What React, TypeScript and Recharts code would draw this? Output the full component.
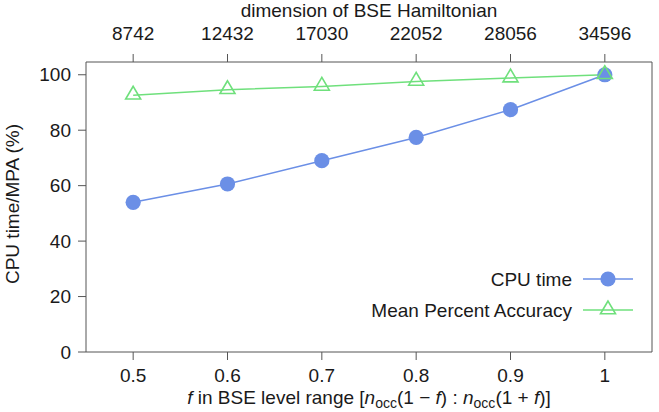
import React from 'react';
import { LineChart, Line, XAxis, YAxis } from 'recharts';

const fValues = [0.5, 0.6, 0.7, 0.8, 0.9, 1.0];
const dimensionLabels = ['8742', '12432', '17030', '22052', '28056', '34596'];
const cpuTime = [54.0, 60.6, 69.0, 77.4, 87.4, 100];
const meanPercentAccuracy = [92.6, 94.6, 95.8, 97.6, 98.8, 100];
const yTicks = [0, 20, 40, 60, 80, 100];

const data = fValues.map((f, i) => ({ f, cpu: cpuTime[i], mpa: meanPercentAccuracy[i] }));

const FONT = '"Liberation Sans", Arial, Helvetica, sans-serif';
const TEXT = '#1a1a1a';
const AXIS = '#555555';
const BLUE = '#6b8fe6';
const GREEN = '#6fe07c';
const FS = 19;

const dimFor = (v: number) => {
  const i = fValues.findIndex((f) => Math.abs(f - v) < 1e-9);
  return i >= 0 ? dimensionLabels[i] : '';
};

const Triangle = (props: any) => {
  const { cx, cy } = props;
  if (cx == null || cy == null) return null;
  return (
    <polygon
      points={`${cx},${cy - 9} ${cx - 7.5},${cy + 3.8} ${cx + 7.5},${cy + 3.8}`}
      fill="none"
      stroke={GREEN}
      strokeWidth={1.6}
    />
  );
};

const Circle = (props: any) => {
  const { cx, cy } = props;
  if (cx == null || cy == null) return null;
  return <circle cx={cx} cy={cy} r={7.6} fill={BLUE} stroke="none" />;
};

const tickStyle = { fontSize: FS, fill: TEXT, fontFamily: FONT };

export default function App() {
  return (
    <div style={{ position: 'absolute', left: 0, top: 0, width: 659, height: 412, background: '#fff' }}>
      <LineChart width={659} height={412} data={data} margin={{ top: 0, right: 0, bottom: 0, left: 0 }}>
        <XAxis
          xAxisId="bottom"
          dataKey="f"
          type="number"
          domain={[0.45, 1.05]}
          allowDataOverflow
          ticks={fValues}
          height={60}
          tickSize={8}
          tickMargin={9}
          tick={tickStyle}
          stroke={AXIS}
          tickFormatter={(v: number) => (Math.abs(v - 1) < 1e-9 ? '1' : String(v))}
          label={(p: any) => {
            const vb = p.viewBox || {};
            return (
              <text x={vb.x + vb.width / 2} y={vb.y + 52} textAnchor="middle" fontSize={FS} fill={TEXT} fontFamily={FONT}>
                <tspan fontStyle="italic">f</tspan>
                <tspan> in BSE level range [</tspan>
                <tspan fontStyle="italic">n</tspan>
                <tspan fontSize={14} dy={4}>occ</tspan>
                <tspan dy={-4}>(1 − </tspan>
                <tspan fontStyle="italic">f</tspan>
                <tspan>) : </tspan>
                <tspan fontStyle="italic">n</tspan>
                <tspan fontSize={14} dy={4}>occ</tspan>
                <tspan dy={-4}>(1 + </tspan>
                <tspan fontStyle="italic">f</tspan>
                <tspan>)]</tspan>
              </text>
            );
          }}
        />
        <XAxis
          xAxisId="top"
          dataKey="f"
          orientation="top"
          type="number"
          domain={[0.45, 1.05]}
          allowDataOverflow
          ticks={fValues}
          height={62}
          tickSize={8}
          tickMargin={14}
          tick={tickStyle}
          stroke={AXIS}
          tickFormatter={(v: number) => dimFor(v)}
          label={(p: any) => {
            const vb = p.viewBox || {};
            return (
              <text x={vb.x + vb.width / 2} y={17} textAnchor="middle" fontSize={FS} fill={TEXT} fontFamily={FONT}>
                dimension of BSE Hamiltonian
              </text>
            );
          }}
        />
        <YAxis
          yAxisId="left"
          type="number"
          domain={[0, 104.6]}
          allowDataOverflow
          ticks={yTicks}
          width={86}
          tickSize={8}
          tickMargin={7}
          tick={tickStyle}
          stroke={AXIS}
          label={(p: any) => {
            const vb = p.viewBox || {};
            const cy = vb.y + vb.height / 2 - 3;
            return (
              <text
                x={19}
                y={cy}
                transform={`rotate(-90, 19, ${cy})`}
                textAnchor="middle"
                fontSize={FS}
                fill={TEXT}
                fontFamily={FONT}
              >
                CPU time/MPA (%)
              </text>
            );
          }}
        />
        <YAxis
          yAxisId="right"
          orientation="right"
          type="number"
          domain={[0, 104.6]}
          allowDataOverflow
          ticks={yTicks}
          width={7}
          tickSize={8}
          tick={false}
          stroke={AXIS}
        />
        <Line
          xAxisId="top"
          yAxisId="right"
          dataKey="cpu"
          stroke="none"
          dot={false}
          activeDot={false}
          legendType="none"
          isAnimationActive={false}
        />
        <Line
          xAxisId="bottom"
          yAxisId="left"
          dataKey="cpu"
          stroke={BLUE}
          strokeWidth={1.5}
          dot={<Circle />}
          activeDot={false}
          isAnimationActive={false}
        />
        <Line
          xAxisId="bottom"
          yAxisId="left"
          dataKey="mpa"
          stroke={GREEN}
          strokeWidth={1.5}
          dot={<Triangle />}
          activeDot={false}
          isAnimationActive={false}
        />
      </LineChart>
      <svg
        width={659}
        height={412}
        style={{ position: 'absolute', left: 0, top: 0, pointerEvents: 'none' }}
      >
        <text x={572} y={286} textAnchor="end" fontSize={FS} fill={TEXT} fontFamily={FONT}>
          CPU time
        </text>
        <line x1={583} y1={279} x2={633} y2={279} stroke={BLUE} strokeWidth={1.5} />
        <circle cx={608} cy={279} r={7.6} fill={BLUE} />
        <text x={572} y={317} textAnchor="end" fontSize={FS} fill={TEXT} fontFamily={FONT}>
          Mean Percent Accuracy
        </text>
        <line x1={583} y1={310} x2={633} y2={310} stroke={GREEN} strokeWidth={1.5} />
        <polygon points="608,301 600.5,313.8 615.5,313.8" fill="none" stroke={GREEN} strokeWidth={1.6} />
      </svg>
    </div>
  );
}
